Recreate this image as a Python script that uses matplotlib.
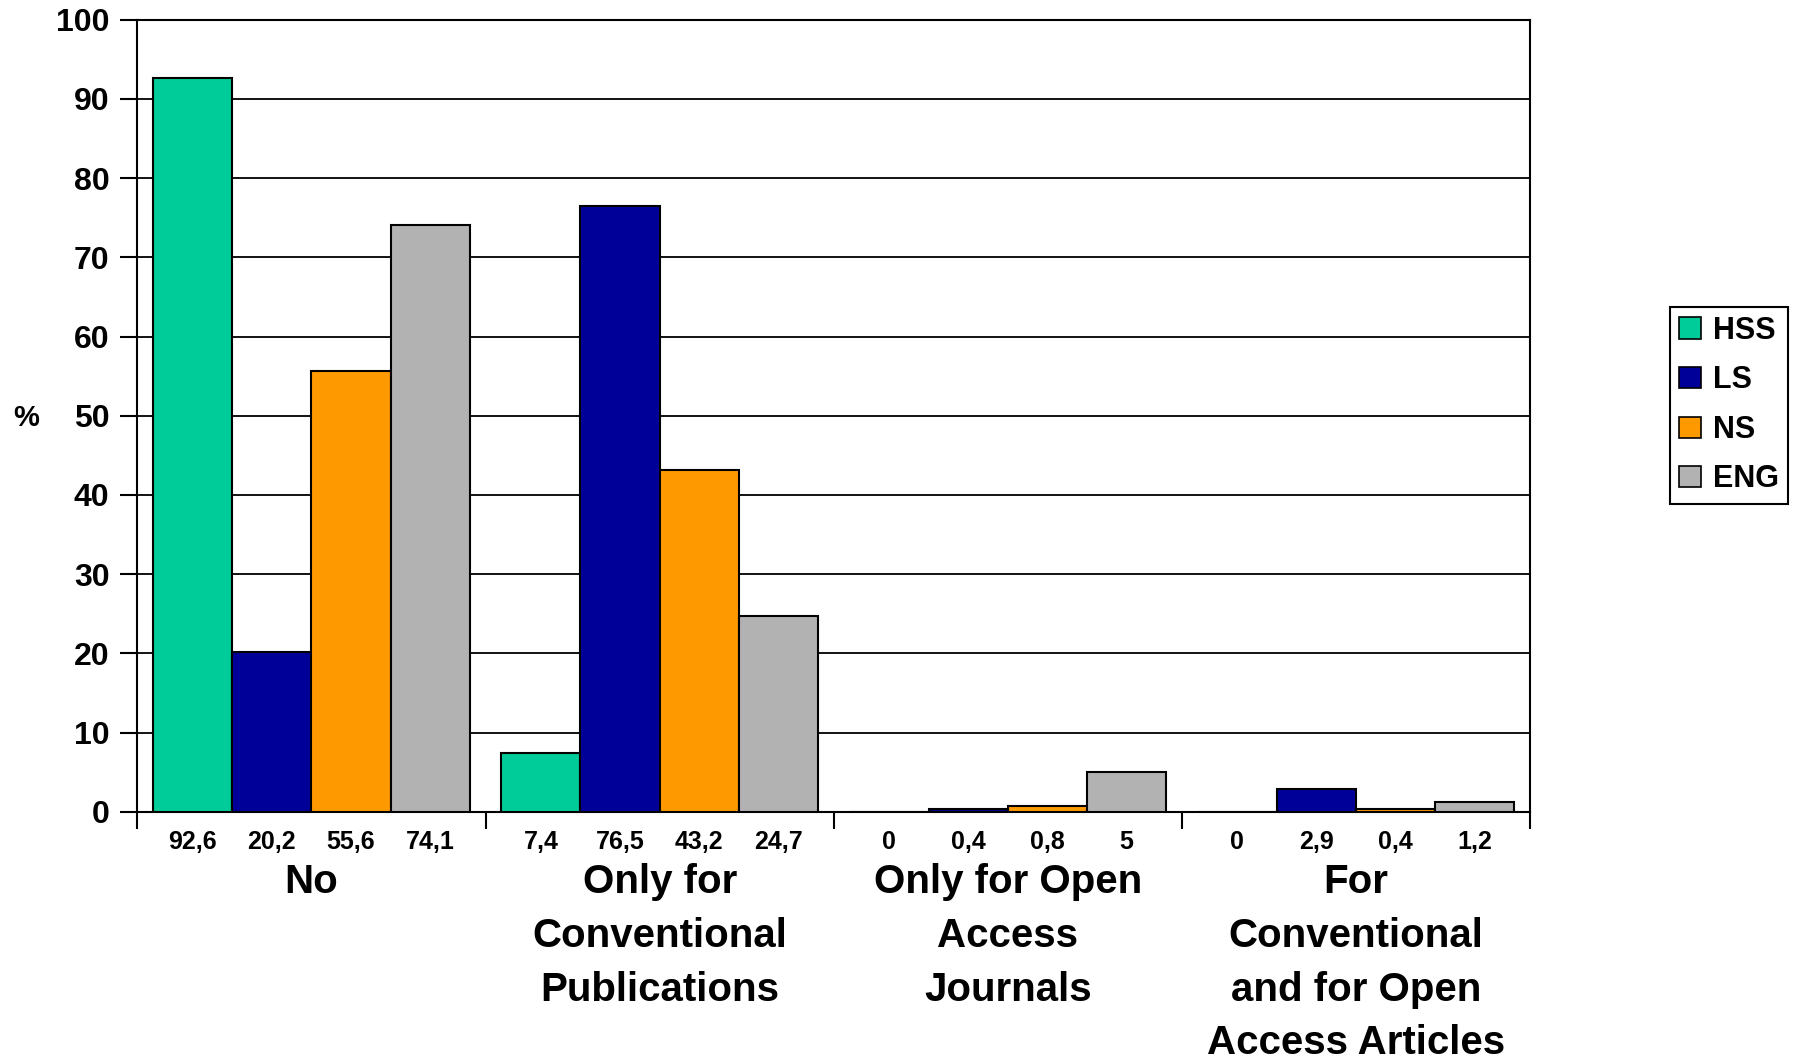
import numpy as np
import matplotlib.pyplot as plt
from matplotlib.patches import Patch

plt.rcParams['font.family'] = ['Liberation Sans', 'DejaVu Sans']
plt.rcParams['font.weight'] = 'bold'

categories = ['No', 'Only for\nConventional\nPublications', 'Only for Open\nAccess\nJournals',
              'For\nConventional\nand for Open\nAccess Articles']
series = ['HSS', 'LS', 'NS', 'ENG']
hss = [92.6, 7.4, 0, 0]
ls = [20.2, 76.5, 0.4, 2.9]
ns = [55.6, 43.2, 0.8, 0.4]
eng = [74.1, 24.7, 5, 1.2]
colors = ['#00CC99', '#000099', '#FF9900', '#B2B2B2']

values = [hss, ls, ns, eng]

fig = plt.figure(figsize=(17.94, 10.61), dpi=100)
ax = fig.add_axes([0.0765, 0.2347, 0.7765, 0.7469])

w = 1 / 4.4
centers = []
labels = []
for j, (name, vals, c) in enumerate(zip(series, values, colors)):
    x = np.arange(len(categories)) + 0.5 + (j - 1.5) * w
    ax.bar(x, vals, width=w, color=c, edgecolor='black', linewidth=1.5, zorder=3)
    centers += list(x)
    labels += [f'{v:g}'.replace('.', ',') for v in vals]

ax.set_xlim(0, len(categories))
ax.set_ylim(0, 100)
ax.set_yticks(np.arange(0, 101, 10))
ax.yaxis.grid(True, color='black', linewidth=1.3, zorder=0)
ax.tick_params(axis='y', labelsize=23, length=12, width=1.5, pad=8)
for t in ax.get_yticklabels():
    t.set_fontweight('bold')

ax.set_xticks(np.arange(0, len(categories) + 1))
ax.set_xticklabels([])
ax.tick_params(axis='x', which='major', length=12, width=1.5)
ax.set_xticks(centers, minor=True)
ax.set_xticklabels(labels, minor=True, fontsize=18, fontweight='bold')
ax.tick_params(axis='x', which='minor', length=0, pad=13)

for i, cat in enumerate(categories):
    ax.text(i + 0.5, -6.4, cat, ha='center', va='top', fontsize=29, fontweight='bold',
            linespacing=1.53)

for s in ax.spines.values():
    s.set_linewidth(1.5)

ax.text(-0.080, 0.497, '%', transform=ax.transAxes, ha='center', va='center',
        fontsize=21, fontweight='bold')

handles = [Patch(facecolor=c, edgecolor='black', linewidth=1.2) for c in colors]
leg = fig.legend(handles, series, loc='upper left', bbox_to_anchor=(0.931, 0.711),
                 prop={'size': 22, 'weight': 'bold'}, fancybox=False, edgecolor='black',
                 handlelength=0.7, handleheight=0.7, handletextpad=0.4, labelspacing=0.64,
                 borderpad=0.3, borderaxespad=0, framealpha=1)
leg.get_frame().set_linewidth(1.5)

fig.savefig('out.png', dpi=100)
